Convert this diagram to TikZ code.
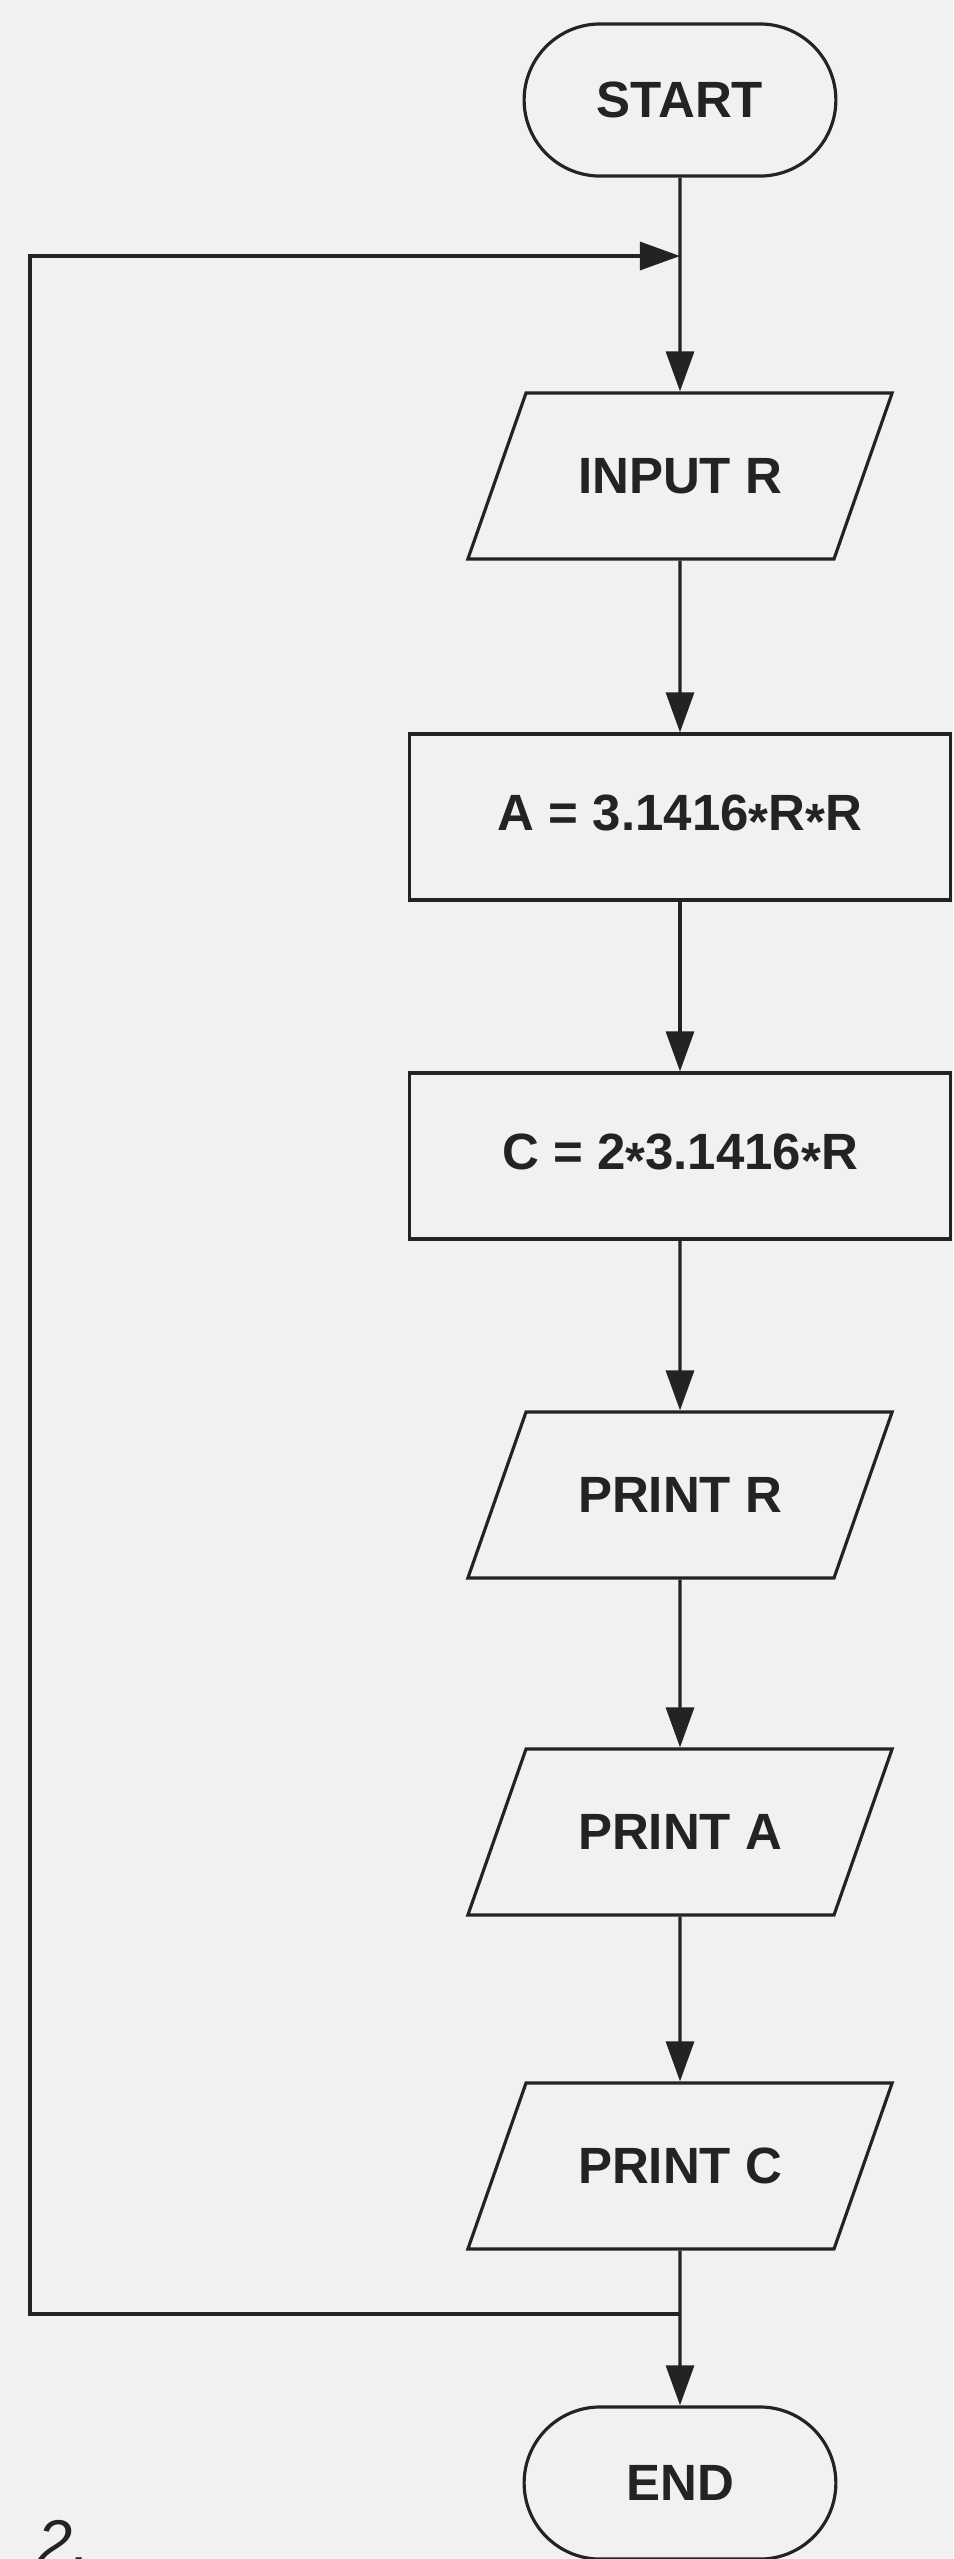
\documentclass[tikz,border=0pt]{standalone}
\usepackage{xcolor}
\usepackage{tikz}
\usepackage{fontspec}
\setmainfont{Liberation Sans}
\usetikzlibrary{shapes.geometric,shapes.misc,arrows.meta}
\definecolor{PaperGrey}{HTML}{F1F1F1}
\definecolor{InkDark}{HTML}{232323}
\newcommand{\astx}{\raisebox{-0.35ex}{*}}

\begin{document}
\begin{tikzpicture}[x=0.01cm,y=-0.01cm,
                every node/.style={font=\fontsize{14.5}{16}\selectfont\bfseries, text=InkDark},
                terminal/.style={draw=InkDark, line width=0.9pt, rounded rectangle, minimum width=3.35cm, minimum height=1.52cm},
                iobox/.style={draw=InkDark, line width=0.9pt, trapezium, trapezium left angle=75.5, trapezium right angle=104.5, trapezium stretches=true, text height=10pt, text depth=0pt, inner ysep=18.6pt, minimum width=4.25cm},
                procbox/.style={draw=InkDark, line width=0.9pt, rectangle, minimum width=5.4cm, minimum height=1.66cm},
                flow/.style={draw=InkDark, line width=0.9pt, -{Triangle[length=4mm,width=2.8mm]}}]
                \useasboundingbox (0,0) rectangle (953,2559);
                \fill[PaperGrey] (0,0) rectangle (953,2559);

                \node[terminal] (start) at (680,100) {START};
                \node[iobox] (input) at (680,476) {INPUT R};
                \node[procbox] (area) at (680,817) {A = 3.1416\astx R\astx R};
                \node[procbox] (circ) at (680,1156) {C = 2\astx 3.1416\astx R};
                \node[iobox] (printr) at (680,1495) {PRINT R};
                \node[iobox] (printa) at (680,1832) {PRINT A};
                \node[iobox] (printc) at (680,2166) {PRINT C};
                \node[terminal] (stop) at (680,2483) {END};
                \node[font=\fontsize{18}{20}\selectfont\itshape, anchor=base west, inner sep=0pt] (fig) at (37,2564) {2.};

                \draw[flow] (start) -- (input);
                \draw[flow] (input) -- (area);
                \draw[flow] (area) -- (circ);
                \draw[flow] (circ) -- (printr);
                \draw[flow] (printr) -- (printa);
                \draw[flow] (printa) -- (printc);
                \draw[flow] (printc) -- (stop);

                \coordinate (join) at (680,256);
                \coordinate (split) at (680,2314);
                \coordinate (loopleft) at (30,2314);
                \draw[flow] (split) -- (loopleft) |- (join);
            \end{tikzpicture}
\end{document}
